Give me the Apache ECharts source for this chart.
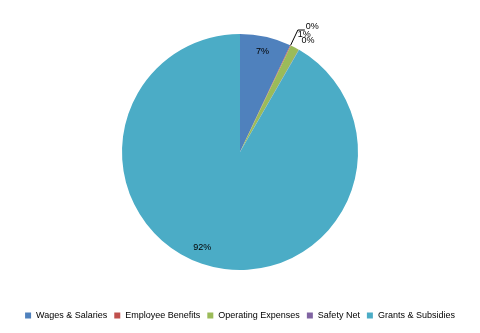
<!DOCTYPE html>
<html><head><meta charset="utf-8">
<script src="https://cdn.jsdelivr.net/npm/echarts@6/dist/echarts.min.js"></script>
<style>html,body{margin:0;padding:0;background:#fff}#c{width:480px;height:333px}</style>
</head><body><div id="c"></div>
<script>
const categories = ['Wages & Salaries','Employee Benefits','Operating Expenses','Safety Net','Grants & Subsidies'];
const values = [7.0, 0.1, 1.2, 0.05, 91.65];
const colors = ['#4F81BD','#C0504D','#9BBB59','#8064A2','#4BACC6'];

const CX = 240, CY = 152, R = 118;
// label styling per slice (inside labels pushed out toward the rim, small slices outside)
const labelStyles = [
  {inside:true, dx:0, dy:0},
  {inside:false, line:true,  length:17, length2:7, dx:0, dy:-4},
  {inside:false, line:false, length:15, length2:0, dx:-4, dy:0},
  {inside:false, line:false, length:11, length2:0, dx:-3, dy:0},
  {inside:true, dx:-11, dy:-4}
];

const chart = echarts.init(document.getElementById('c'));
chart.setOption({
  animation:false,
  color: colors,
  legend:{
    top: 306, left:'center',
    itemWidth:6, itemHeight:6, itemGap:7,
    icon:'rect',
    textStyle:{fontFamily:'Liberation Sans', fontSize:9, color:'#000'},
    data: categories
  },
  series:[{
    type:'pie',
    center:[CX,CY],
    radius:[0,R],
    startAngle:90,
    clockwise:true,
    avoidLabelOverlap:false,
    label:{
      show:true, fontFamily:'Liberation Sans', fontSize:9, color:'#000',
      formatter: p => Math.round(p.percent)+'%'
    },
    labelLayout: function(params){
      const s = labelStyles[params.dataIndex];
      if (!s.inside) return {dx:s.dx, dy:s.dy};
      const r = params.labelRect;
      const lx = r.x + r.width/2, ly = r.y + r.height/2;
      const k = 1.66;
      return {x: CX + (lx-CX)*k + s.dx, y: CY + (ly-CY)*k + s.dy};
    },
    itemStyle:{borderWidth:0},
    emphasis:{disabled:true},
    data: categories.map((n,i)=>{
      const s = labelStyles[i];
      return {
        name:n, value:values[i],
        label: s.inside ? {position:'inside'} :
          {position:'outside', distanceToLabelLine: s.line ? 1 : 0},
        labelLine: s.inside ? {show:false} :
          {show:s.line, length:s.length, length2:s.length2, lineStyle:{color:'#000', width:1}}
      };
    })
  }]
});
</script></body></html>
